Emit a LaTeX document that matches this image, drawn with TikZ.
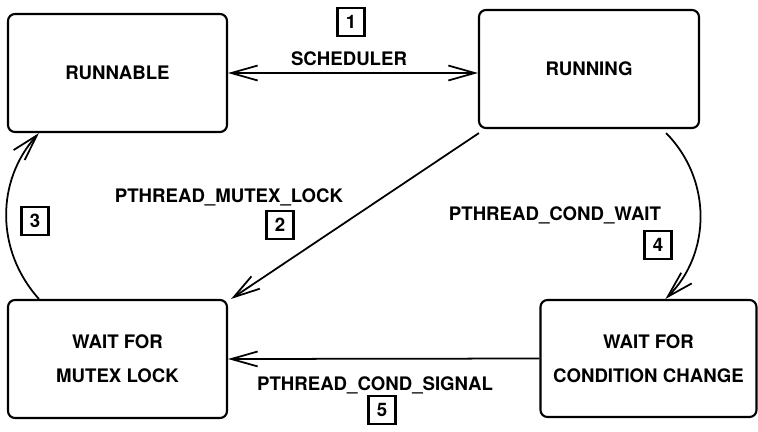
\documentclass[tikz,border=0pt]{standalone}
\usepackage{fontspec}
\setmainfont{TeX Gyre Heros}
\usetikzlibrary{arrows.meta}
\newcommand{\statefont}{\fontsize{10.6}{19.3}\selectfont\bfseries}

\begin{document}
\begin{tikzpicture}[->,line width=1pt,>={Straight Barb[length=15pt,width=8.5pt]}]
    \tikzstyle{state}=[draw, line width=1.2pt, rounded corners=0.14cm, minimum width=4.38cm, minimum height=2.36cm, align=center, font=\statefont]
    \tikzstyle{tag}=[draw, line width=1.2pt, minimum width=0.54cm, minimum height=0.56cm, inner sep=0pt, font=\statefont]
    \tikzstyle{lbl}=[font=\statefont, inner sep=0pt]

    \useasboundingbox (0,0) rectangle (15.16,-8.62);

    \node[state] (runnable) at (2.35,-1.46)  {RUNNABLE};
    \node[state, minimum width=4.40cm] (running) at (11.78,-1.38) {RUNNING};
    \node[state] (mutex) at (2.35,-7.18) {WAIT FOR\\MUTEX LOCK};
    \node[state, minimum width=4.32cm, minimum height=2.34cm] (cond) at (12.97,-7.17) {WAIT FOR\\CONDITION CHANGE};

    \node[lbl] (sched)  at (6.98,-1.18) {SCHEDULER};
    \node[lbl] (mlock)  at (4.58,-3.94) {PTHREAD\_MUTEX\_LOCK};
    \node[lbl] (cwait)  at (11.10,-4.30) {PTHREAD\_COND\_WAIT};
    \node[lbl] (csig)   at (7.50,-7.70) {PTHREAD\_COND\_SIGNAL};

    \node[tag] (t1) at (7.02,-0.44) {1};
    \node[tag] (t2) at (5.60,-4.50) {2};
    \node[tag] (t3) at (0.70,-4.42) {3};
    \node[tag] (t4) at (13.16,-4.90) {4};
    \node[tag] (t5) at (7.64,-8.20) {5};

    \path
     (runnable.east) edge[<->] (runnable.east -| running.west)
     ([shift={(0.02,-0.08)}]running.south west) edge ([xshift=0.06cm]mutex.north east)
     ([xshift=0.64cm]mutex.north west) edge[bend left=42] ([xshift=0.64cm]runnable.south west)
     ([shift={(-0.68,-0.08)}]running.south east) edge[bend left=45] ([xshift=2.52cm]cond.north west)
     (cond.west) edge (mutex.east)
     ;
\end{tikzpicture}
\end{document}
